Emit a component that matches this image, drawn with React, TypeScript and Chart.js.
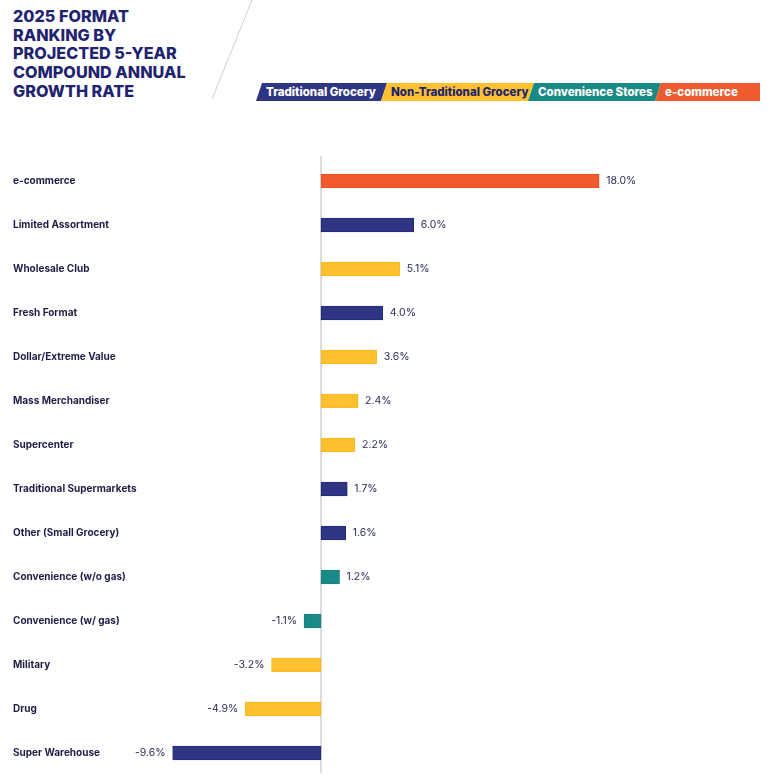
import React, { useEffect, useRef } from "react";
import { Chart, registerables } from "chart.js";

Chart.register(...registerables);

const categories = [
  "e-commerce",
  "Limited Assortment",
  "Wholesale Club",
  "Fresh Format",
  "Dollar/Extreme Value",
  "Mass Merchandiser",
  "Supercenter",
  "Traditional Supermarkets",
  "Other (Small Grocery)",
  "Convenience (w/o gas)",
  "Convenience (w/ gas)",
  "Military",
  "Drug",
  "Super Warehouse",
];

const growthValues = [18.0, 6.0, 5.1, 4.0, 3.6, 2.4, 2.2, 1.7, 1.6, 1.2, -1.1, -3.2, -4.9, -9.6];

const formatGroups = [
  "e-commerce",
  "Traditional Grocery",
  "Non-Traditional Grocery",
  "Traditional Grocery",
  "Non-Traditional Grocery",
  "Non-Traditional Grocery",
  "Non-Traditional Grocery",
  "Traditional Grocery",
  "Traditional Grocery",
  "Convenience Stores",
  "Convenience Stores",
  "Non-Traditional Grocery",
  "Non-Traditional Grocery",
  "Traditional Grocery",
];

const legendLabels = ["Traditional Grocery", "Non-Traditional Grocery", "Convenience Stores", "e-commerce"];

const titleLines = ["2025 FORMAT", "RANKING BY", "PROJECTED 5-YEAR", "COMPOUND ANNUAL", "GROWTH RATE"];

const groupColors: Record<string, string> = {
  "Traditional Grocery": "#2e3582",
  "Non-Traditional Grocery": "#fdc12f",
  "Convenience Stores": "#1a8a86",
  "e-commerce": "#ef5a2f",
};
const groupBorders: Record<string, string> = {
  "Traditional Grocery": "#222a75",
  "Non-Traditional Grocery": "#f7b81e",
  "Convenience Stores": "#14807c",
  "e-commerce": "#e8501f",
};
const legendTextColors: Record<string, string> = {
  "Traditional Grocery": "#ffffff",
  "Non-Traditional Grocery": "#1f2470",
  "Convenience Stores": "#ffffff",
  "e-commerce": "#ffffff",
};

const NAVY = "#1f2470";
const LABEL = "#1c1d45";
const FONT = "Inter, 'DejaVu Sans', sans-serif";

const zeroLinePlugin = {
  id: "zeroLine",
  beforeDatasetsDraw(chart: any) {
    const { ctx } = chart;
    const x = chart.scales.x.getPixelForValue(0);
    ctx.save();
    ctx.strokeStyle = "#dcdcdc";
    ctx.lineWidth = 2;
    ctx.beginPath();
    ctx.moveTo(x, 6);
    ctx.lineTo(x, 623);
    ctx.stroke();
    ctx.restore();
  },
};

const valueLabelPlugin = {
  id: "valueLabels",
  afterDatasetsDraw(chart: any) {
    const { ctx } = chart;
    const meta = chart.getDatasetMeta(0);
    const data = chart.data.datasets[0].data as number[];
    ctx.save();
    ctx.font = `400 10.5px ${FONT}`;
    ctx.fillStyle = "#2a2c5a";
    ctx.textBaseline = "middle";
    meta.data.forEach((bar: any, i: number) => {
      const v = data[i];
      const txt = `${v.toFixed(1)}%`;
      if (v >= 0) {
        ctx.textAlign = "left";
        ctx.fillText(txt, bar.x + 7, bar.y);
      } else {
        ctx.textAlign = "right";
        ctx.fillText(txt, bar.x - 7, bar.y);
      }
    });
    ctx.restore();
  },
};

function Legend() {
  const top = 83;
  const bottom = 101;
  const tops = [262, 387, 534, 661, 760];
  const bots = [256, 381, 528, 655, 760];
  return (
    <svg
      width={770}
      height={120}
      style={{ position: "absolute", left: 0, top: 0 }}
    >
      <line x1={252} y1={0} x2={212} y2={99} stroke="#cfcfcf" strokeWidth={1} />
      {legendLabels.map((lab, i) => {
        const pts = `${tops[i]},${top} ${tops[i + 1]},${top} ${bots[i + 1]},${bottom} ${bots[i]},${bottom}`;
        return (
          <g key={lab}>
            <polygon points={pts} fill={groupColors[lab]} />
            <text
              x={(tops[i] + bots[i]) / 2 + 7}
              y={96}
              fill={legendTextColors[lab]}
              fontFamily={FONT}
              fontWeight={800}
              fontSize={11.5}
            >
              {lab}
            </text>
          </g>
        );
      })}
    </svg>
  );
}

export default function App() {
  const canvasRef = useRef<HTMLCanvasElement | null>(null);

  useEffect(() => {
    if (!canvasRef.current) return;
    const chart = new Chart(canvasRef.current, {
      type: "bar",
      data: {
        labels: categories,
        datasets: [
          {
            data: growthValues,
            backgroundColor: formatGroups.map((g) => groupColors[g]),
            borderColor: formatGroups.map((g) => groupBorders[g]),
            borderWidth: 1,
            borderSkipped: false,
            barThickness: 14,
          },
        ],
      },
      options: {
        indexAxis: "y",
        animation: false,
        responsive: false,
        maintainAspectRatio: false,
        layout: { padding: { left: 13, top: 9, right: 10, bottom: 0 } },
        plugins: {
          legend: { display: false },
          tooltip: { enabled: false },
        },
        scales: {
          x: {
            type: "linear",
            display: false,
            min: -10.42,
            max: 28.41,
          },
          y: {
            type: "category",
            grid: { display: false },
            border: { display: false },
            ticks: {
              crossAlign: "far",
              color: LABEL,
              padding: 0,
              font: { family: FONT, size: 10, weight: "bold" },
            },
            afterFit(scale: any) {
              scale.width = 147;
            },
          },
        },
      },
      plugins: [zeroLinePlugin, valueLabelPlugin],
    });
    return () => chart.destroy();
  }, []);

  return (
    <div
      style={{
        position: "fixed",
        left: 0,
        top: 0,
        width: 770,
        height: 777,
        background: "#ffffff",
        overflow: "hidden",
      }}
    >
      <div
        style={{
          position: "absolute",
          left: 13,
          top: 7,
          fontFamily: FONT,
          fontWeight: 800,
          fontSize: 16.2,
          lineHeight: "18.7px",
          color: NAVY,
        }}
      >
        {titleLines.map((l) => (
          <div key={l}>{l}</div>
        ))}
      </div>
      <Legend />
      <canvas
        ref={canvasRef}
        width={770}
        height={631}
        style={{ position: "absolute", left: 0, top: 150, width: 770, height: 631 }}
      />
    </div>
  );
}
